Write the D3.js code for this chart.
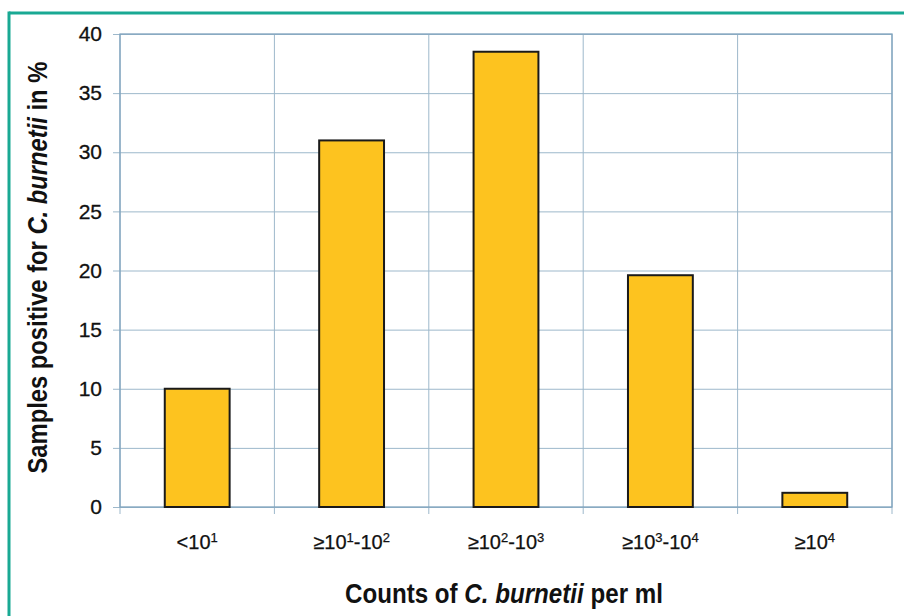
<!DOCTYPE html>
<html>
<head>
<meta charset="utf-8">
<script src="https://cdn.jsdelivr.net/npm/d3@7"></script>
<style>
  html, body { margin: 0; padding: 0; background: #ffffff; }
  svg { display: block; }
  text { font-family: "Liberation Sans", Arial, sans-serif; fill: #111; }
</style>
</head>
<body>
<svg id="chart" width="904" height="616"></svg>
<script>
// ---- data ----
const categories = ["<10^1", "≥10^1-10^2", "≥10^2-10^3", "≥10^3-10^4", "≥10^4"];
const values = [10, 31, 38.5, 19.6, 1.2];
const yTicks = [0, 5, 10, 15, 20, 25, 30, 35, 40];
const yTitle = ["Samples positive for ", "C. burnetii", " in %"];
const xTitle = ["Counts of ", "C. burnetii", " per ml"];

const svg = d3.select("#chart");
const W = 904, H = 616;
const m = { left: 120, right: 12, top: 34, bottom: 109 };
const pw = W - m.left - m.right, ph = H - m.top - m.bottom;

// teal frame (top + left)
svg.append("line").attr("x1", 9).attr("x2", W).attr("y1", 13).attr("y2", 13)
  .attr("stroke", "#19a994").attr("stroke-width", 3);
svg.append("line").attr("x1", 9).attr("x2", 9).attr("y1", 11.5).attr("y2", H)
  .attr("stroke", "#19a994").attr("stroke-width", 3);

const g = svg.append("g").attr("transform", `translate(${m.left},${m.top})`);

const x = d3.scaleBand().domain(categories).range([0, pw]).paddingInner(0.58).paddingOuter(0.29);
const y = d3.scaleLinear().domain([0, 40]).range([ph, 0]);

const gridColor = "#9db8cb";

// horizontal grid + y ticks
const yAxis = d3.axisLeft(y).tickValues(yTicks).tickSize(7).tickPadding(11).tickFormat(d3.format("d"));
const ya = g.append("g").call(yAxis);
ya.attr("font-size", 21).attr("font-family", "'Liberation Sans', Arial, sans-serif");
ya.select(".domain").remove();
ya.selectAll(".tick line").attr("stroke", gridColor).attr("x2", pw);
ya.selectAll(".tick line").attr("x1", -7);
ya.selectAll(".tick text").attr("font-size", 21).attr("fill", "#111")
  .attr("stroke", "#111").attr("stroke-width", 0.3);

// vertical category boundary lines
const step = x.step();
const bounds = d3.range(categories.length + 1).map(i => x(categories[0]) - x.paddingOuter() * step + i * step);
g.selectAll(".vgrid").data(bounds).enter().append("line")
  .attr("x1", d => d).attr("x2", d => d)
  .attr("y1", 0).attr("y2", ph + 7)
  .attr("stroke", gridColor).attr("stroke-width", 1);

// plot frame
g.append("rect").attr("x", 0).attr("y", 0).attr("width", pw).attr("height", ph)
  .attr("fill", "none").attr("stroke", "#7fa3bd").attr("stroke-width", 1.3);

// bars
g.selectAll(".bar").data(values).enter().append("rect")
  .attr("x", (d, i) => x(categories[i]))
  .attr("y", d => y(d))
  .attr("width", x.bandwidth())
  .attr("height", d => ph - y(d))
  .attr("fill", "#fdc31f")
  .attr("stroke", "#1a1a1a").attr("stroke-width", 2);

// x category labels with superscripts
const xl = g.selectAll(".xl").data(categories).enter().append("text")
  .attr("x", d => x(d) + x.bandwidth() / 2)
  .attr("y", ph + 42)
  .attr("text-anchor", "middle")
  .attr("font-size", 20)
  .attr("stroke", "#111").attr("stroke-width", 0.25);
xl.each(function(d) {
  const t = d3.select(this);
  const parts = d.split(/(\^\d)/);
  let sup = false;
  parts.forEach(p => {
    if (!p) return;
    if (p.startsWith("^")) {
      t.append("tspan").attr("dy", -7).attr("font-size", 13).text(p.slice(1));
      sup = true;
    } else {
      t.append("tspan").attr("dy", sup ? 7 : 0).attr("font-size", 20).text(p);
      sup = false;
    }
  });
});

// axis titles (bold, horizontally condensed to the reference width)
function condensed(parent, parts, cx, cy, rot, target) {
  const outer = parent.append("g").attr("transform", `translate(${cx},${cy}) rotate(${rot})`);
  const t = outer.append("text")
    .attr("text-anchor", "start")
    .attr("font-size", 27).attr("font-weight", "bold");
  parts.forEach((s, i) => t.append("tspan").attr("font-size", 27)
    .attr("font-style", i === 1 ? "italic" : "normal").text(s));
  const w = t.node().getComputedTextLength();
  const k = target / w;
  t.attr("transform", `scale(${k},1) translate(${-w / 2},0)`);
}
condensed(svg, yTitle, 47, m.top + ph / 2 - 3, -90, 412);
condensed(svg, xTitle, 504, 603, 0, 318);
</script>
</body>
</html>
